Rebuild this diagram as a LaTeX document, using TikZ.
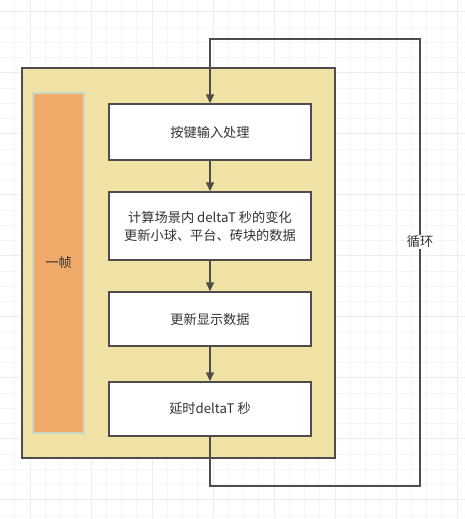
\documentclass[tikz,border=0pt]{standalone}
\usepackage{fontspec}
\setmainfont{Noto Sans CJK SC}
\usetikzlibrary{arrows.meta}
\definecolor{lineC}{HTML}{4D4D4D}
\definecolor{yelC}{HTML}{F0E2A4}
\definecolor{oraC}{HTML}{F0AB6A}
\definecolor{oraE}{HTML}{C9D8C4}
\definecolor{txtC}{HTML}{333333}
\tikzset{
  stepbox/.style={draw=lineC, line width=1.4pt, fill=white, minimum width=202pt, align=center, text=txtC, font=\fontsize{13.2}{18}\selectfont, inner sep=0pt},
  flow/.style={draw=lineC, line width=1.4pt, -{Triangle[length=9pt,width=8pt]}},
}
\begin{document}
\begin{tikzpicture}[x=1pt,y=-1pt]
\useasboundingbox (0,0) rectangle (465,519);
\fill[white] (0,0) rectangle (465,519);
% grid
\foreach \i in {0,...,30} {
  \pgfmathsetmacro{\xx}{14.75+15.25*\i}
  \pgfmathtruncatemacro{\mm}{mod(\i+3,4)}
  \ifnum\mm=0 \draw[gray!14, line width=1pt] (\xx,0) -- (\xx,519);
  \else \draw[gray!7, line width=0.8pt] (\xx,0) -- (\xx,519); \fi
}
\foreach \i in {0,...,33} {
  \pgfmathsetmacro{\yy}{11.7+15.25*\i}
  \pgfmathtruncatemacro{\mm}{mod(\i,4)}
  \ifnum\mm=0 \draw[gray!14, line width=1pt] (0,\yy) -- (465,\yy);
  \else \draw[gray!7, line width=0.8pt] (0,\yy) -- (465,\yy); \fi
}
% frame
\draw[draw=lineC, line width=1.4pt, fill=yelC] (22,68) rectangle (335,458);
\node[draw=oraE, line width=1.4pt, fill=oraC, minimum width=51pt, minimum height=340pt, inner sep=0pt, text=txtC, font=\fontsize{13.2}{16}\selectfont] (frame) at (58.5,263) {一帧};
% steps
\node[stepbox, minimum height=56pt] (b1) at (210,132) {按键输入处理};
\node[stepbox, minimum height=68pt] (b2) at (210,226) {计算场景内 deltaT 秒的变化\\更新小球、平台、砖块的数据};
\node[stepbox, minimum height=54pt] (b3) at (210,319) {更新显示数据};
\node[stepbox, minimum height=54pt] (b4) at (210,409) {延时deltaT 秒};
\draw[flow] (b1) -- (b2);
\draw[flow] (b2) -- (b3);
\draw[flow] (b3) -- (b4);
\coordinate (lb) at (210,486);
\coordinate (rb) at (420,486);
\coordinate (rt) at (420,39);
\coordinate (lt) at (210,39);
\draw[flow] (b4.south) -- (lb) -- (rb) -- (rt) -- (lt) -- (b1.north);
\node[fill=white, inner sep=1pt, text=txtC, font=\fontsize{13.2}{16}\selectfont] (loop) at (420,242) {循环};
\end{tikzpicture}
\end{document}
